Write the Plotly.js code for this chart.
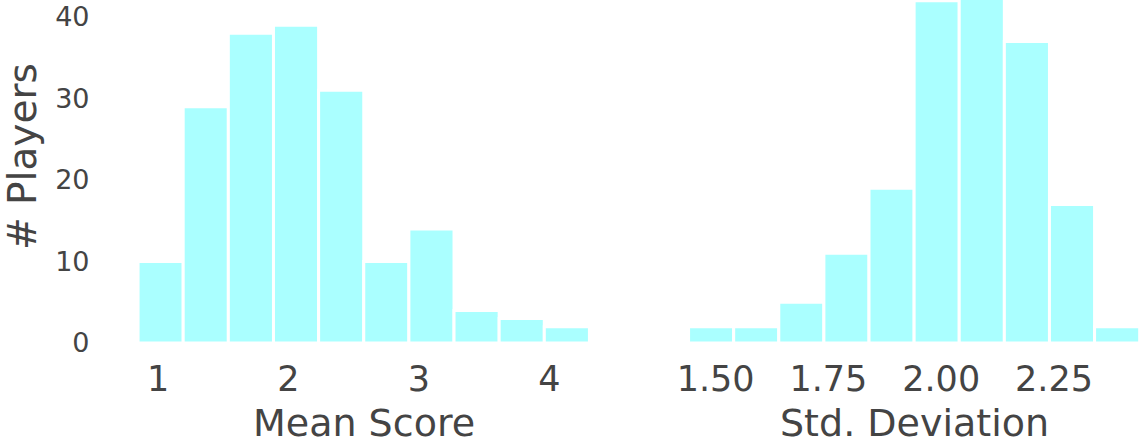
<!DOCTYPE html>
<html>
<head>
<meta charset="utf-8">
<script src="https://cdn.plot.ly/plotly-3.0.1.min.js"></script>
<style>html,body{margin:0;padding:0;background:#fff;}#chart{width:1140px;height:448px;}</style>
</head>
<body>
<div id="chart"></div>
<script>
// Mean Score histogram (bin centers, counts)
const meanBins = [1.020, 1.366, 1.712, 2.058, 2.404, 2.750, 3.096, 3.442, 3.788, 4.134];
const meanCounts = [10, 29, 38, 39, 31, 10, 14, 4, 3, 2];
const meanBinWidth = 0.346;

// Std. Deviation histogram (bin centers, counts)
const stdBins = [1.49, 1.59, 1.69, 1.79, 1.89, 1.99, 2.09, 2.19, 2.29, 2.39];
const stdCounts = [2, 2, 5, 11, 19, 42, 44, 37, 17, 2];
const stdBinWidth = 0.1;

const meanTicks = [1, 2, 3, 4];
const stdTicks = [1.5, 1.75, 2.0, 2.25];
const yTicks = [0, 10, 20, 30, 40];

const barColor = '#aaffff';
const textColor = '#444444';
const FONT = 'DejaVu Sans, sans-serif';

const traces = [
  {
    type: 'bar', x: meanBins, y: meanCounts, width: meanBinWidth,
    marker: {color: barColor, line: {color: '#ffffff', width: 3}},
    xaxis: 'x', yaxis: 'y', hoverinfo: 'x+y', showlegend: false
  },
  {
    type: 'bar', x: stdBins, y: stdCounts, width: stdBinWidth,
    marker: {color: barColor, line: {color: '#ffffff', width: 3}},
    xaxis: 'x2', yaxis: 'y2', hoverinfo: 'x+y', showlegend: false
  }
];

const W = 1140, H = 448;
const axBase = {
  showgrid: false, zeroline: false, showline: false, automargin: false,
  ticks: '', fixedrange: true
};

const layout = {
  width: W, height: H,
  margin: {l: 0, r: 0, t: 0, b: 105, pad: 0},
  paper_bgcolor: '#ffffff', plot_bgcolor: '#ffffff',
  font: {family: FONT, color: textColor},
  bargap: 0,
  xaxis: Object.assign({}, axBase, {
    domain: [115.5 / W, 612 / W], range: [0.674, 4.48],
    tickvals: meanTicks, ticktext: meanTicks.map(String),
    tickfont: {size: 35, family: FONT, color: textColor},
    ticklabelstandoff: 12, anchor: 'y'
  }),
  xaxis2: Object.assign({}, axBase, {
    domain: [666 / W, 1], range: [1.39, 2.4407],
    tickvals: stdTicks, ticktext: stdTicks.map(v => v.toFixed(2)),
    tickfont: {size: 35, family: FONT, color: textColor},
    ticklabelstandoff: 12, anchor: 'y2'
  }),
  yaxis: Object.assign({}, axBase, {
    domain: [0, 1], range: [0, 42.09],
    tickvals: yTicks, ticktext: yTicks.map(String),
    tickfont: {size: 27, family: FONT, color: textColor},
    ticklabelstandoff: 25, anchor: 'x'
  }),
  yaxis2: Object.assign({}, axBase, {
    domain: [0, 1], range: [0, 42.09], matches: 'y',
    showticklabels: false, anchor: 'x2'
  }),
  annotations: [
    {text: 'Mean Score', xref: 'x domain', x: 0.5, yref: 'paper', y: (343 - 447) / 343,
     xanchor: 'center', yanchor: 'bottom', showarrow: false,
     font: {size: 38, family: FONT, color: textColor}},
    {text: 'Std. Deviation', xref: 'paper', x: 914 / W, yref: 'paper', y: (343 - 447) / 343,
     xanchor: 'center', yanchor: 'bottom', showarrow: false,
     font: {size: 38, family: FONT, color: textColor}},
    {text: '# Players', xref: 'paper', x: 22 / W, yref: 'paper', y: (343 - 157) / 343,
     xanchor: 'center', yanchor: 'middle', showarrow: false, textangle: -90,
     font: {size: 39, family: FONT, color: textColor}}
  ]
};

Plotly.newPlot('chart', traces, layout, {displayModeBar: false, staticPlot: true});
</script>
</body>
</html>
